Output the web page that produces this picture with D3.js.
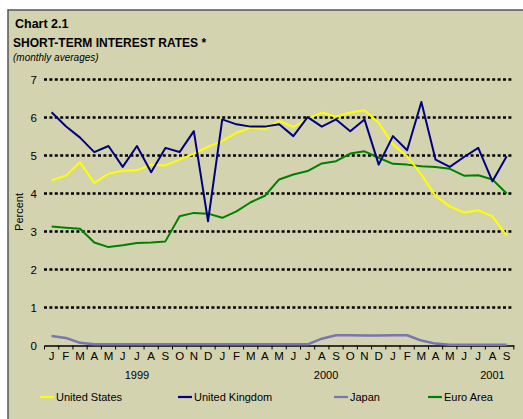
<!DOCTYPE html>
<html>
<head>
<meta charset="utf-8">
<script src="https://cdn.jsdelivr.net/npm/d3@7"></script>
<style>
  body { margin: 0; background: #fff; }
  svg { display: block; font-family: Arial, "Liberation Sans", sans-serif; }
</style>
</head>
<body>
<svg width="523" height="419"></svg>
<script>
// months Jan 1999 .. Sep 2001
const monthLetters = ["J","F","M","A","M","J","J","A","S","O","N","D",
                      "J","F","M","A","M","J","J","A","S","O","N","D",
                      "J","F","M","A","M","J","J","A","S"];
const months = monthLetters.map((m, i) => i);
const yearLabels = ["1999", "2000", "2001"];
const yearAnchor = [6, 19.3, 31];   // month index the year label sits under
const yTicks = [0, 1, 2, 3, 4, 5, 6, 7];

const unitedStates = [4.35, 4.47, 4.82, 4.28, 4.52, 4.60, 4.61, 4.76, 4.74, 4.89, 5.05, 5.23,
                      5.38, 5.60, 5.73, 5.69, 5.91, 5.75, 5.97, 6.13, 6.02, 6.13, 6.19, 5.86,
                      5.29, 4.98, 4.50, 3.93, 3.66, 3.50, 3.56, 3.40, 2.89];
const unitedKingdom = [6.14, 5.77, 5.47, 5.09, 5.25, 4.70, 5.25, 4.56, 5.20, 5.09, 5.64, 3.27,
                       5.95, 5.82, 5.76, 5.76, 5.82, 5.51, 6.01, 5.76, 5.95, 5.64, 5.95, 4.76,
                       5.51, 5.14, 6.41, 4.89, 4.70, 4.96, 5.20, 4.32, 4.98];
const japan = [0.25, 0.20, 0.07, 0.03, 0.03, 0.03, 0.03, 0.03, 0.03, 0.03, 0.03, 0.03,
               0.03, 0.03, 0.03, 0.03, 0.03, 0.03, 0.03, 0.18, 0.27, 0.27, 0.26, 0.26,
               0.27, 0.27, 0.13, 0.05, 0.02, 0.02, 0.02, 0.02, 0.02];
const euroArea = [3.13, 3.10, 3.07, 2.71, 2.59, 2.64, 2.70, 2.71, 2.74, 3.40, 3.49, 3.47,
                  3.36, 3.53, 3.77, 3.94, 4.37, 4.50, 4.59, 4.79, 4.85, 5.05, 5.11, 4.94,
                  4.78, 4.76, 4.72, 4.70, 4.65, 4.47, 4.48, 4.37, 4.00];

const seriesNames = ["United States", "United Kingdom", "Japan", "Euro Area"];
const seriesValues = [unitedStates, unitedKingdom, japan, euroArea];
const seriesColors = ["#FFFF00", "#000080", "#7676B0", "#008000"];
const legendX = [56, 194, 350, 444];

const svg = d3.select("svg");

// frame
svg.append("rect")
  .attr("x", 8).attr("y", 10)
  .attr("width", 530).attr("height", 430)
  .attr("fill", "#D4D3B0")
  .attr("stroke", "#555").attr("stroke-width", 1.5);

// titles
svg.append("text").attr("x", 15).attr("y", 28)
  .attr("font-size", 12.5).attr("font-weight", "bold").text("Chart 2.1");
svg.append("text").attr("x", 13).attr("y", 47)
  .attr("font-size", 12).attr("font-weight", "bold").text("SHORT-TERM INTEREST RATES *");
svg.append("text").attr("x", 13).attr("y", 61)
  .attr("font-size", 10).attr("font-style", "italic").text("(monthly averages)");

const x = d3.scaleBand().domain(months).range([44.5, 513.8]).padding(0);
const cx = i => x(i) + x.bandwidth() / 2;
const y = d3.scaleLinear().domain([0, 7]).range([345.5, 79.5]);

// gridlines
svg.append("g").selectAll("line")
  .data(yTicks.filter(d => d > 0))
  .join("line")
  .attr("x1", 44).attr("x2", 513)
  .attr("y1", d => y(d)).attr("y2", d => y(d))
  .attr("stroke", "#000").attr("stroke-width", 2.5)
  .attr("stroke-dasharray", "3,2.4");

// y axis labels
const yAxis = svg.append("g")
  .attr("transform", "translate(44,0)")
  .call(d3.axisLeft(y).tickValues(yTicks).tickFormat(d3.format("d")).tickSize(0).tickPadding(7));
yAxis.select(".domain").remove();
yAxis.selectAll("text").attr("font-size", 11.5).attr("fill", "#000")
  .attr("font-family", "Arial, 'Liberation Sans', sans-serif");

svg.append("text")
  .attr("transform", "translate(23,212) rotate(-90)")
  .attr("text-anchor", "middle")
  .attr("font-size", 11).text("Percent");

// x axis
const xAxis = svg.append("g")
  .attr("transform", `translate(0,${y(0)})`)
  .call(d3.axisBottom(x).tickFormat(i => monthLetters[i]).tickSize(0).tickPadding(6));
xAxis.select(".domain").attr("stroke", "#000").attr("stroke-width", 1.3);
xAxis.selectAll("text").attr("font-size", 11.5).attr("fill", "#000")
  .attr("font-family", "Arial, 'Liberation Sans', sans-serif");

// boundary tick marks
xAxis.append("g").selectAll("line")
  .data(months.concat([months.length]))
  .join("line")
  .attr("x1", i => i < months.length ? x(i) : x(months.length - 1) + x.bandwidth())
  .attr("x2", i => i < months.length ? x(i) : x(months.length - 1) + x.bandwidth())
  .attr("y1", 0).attr("y2", 4)
  .attr("stroke", "#000").attr("stroke-width", 1);

// year labels
svg.append("g").selectAll("text")
  .data(yearLabels)
  .join("text")
  .attr("x", (d, i) => cx(0) + yearAnchor[i] * x.step())
  .attr("y", 379)
  .attr("text-anchor", "middle")
  .attr("font-size", 11)
  .text(d => d);

// lines
const line = d3.line().x((d, i) => cx(i)).y(d => y(d));
const drawOrder = [2, 3, 0, 1];
drawOrder.forEach(k => {
  svg.append("path")
    .datum(seriesValues[k])
    .attr("fill", "none")
    .attr("stroke", seriesColors[k])
    .attr("stroke-width", k === 2 ? 2.5 : 2)
    .attr("stroke-linejoin", "round")
    .attr("d", line);
});

// legend
const legend = svg.append("g").selectAll("g")
  .data(seriesNames)
  .join("g")
  .attr("transform", (d, i) => `translate(${legendX[i]},397)`);
legend.append("line")
  .attr("x1", -16).attr("x2", -2).attr("y1", 0).attr("y2", 0)
  .attr("stroke", (d, i) => seriesColors[i]).attr("stroke-width", 2.2);
legend.append("text")
  .attr("x", 0).attr("y", 4)
  .attr("font-size", 11)
  .text(d => d);
</script>
</body>
</html>
